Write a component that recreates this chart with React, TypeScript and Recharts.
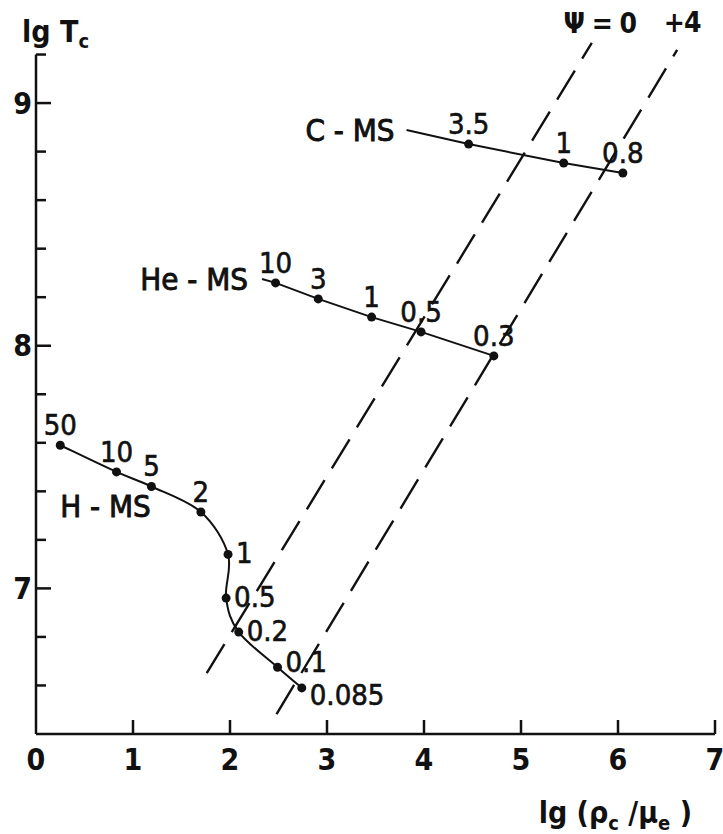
import type { CSSProperties } from "react";
import {
  LabelList,
  Line,
  LineChart,
  ReferenceLine,
  XAxis,
  YAxis,
} from "recharts";

// Main-sequence tracks: central density vs central temperature, points labelled by mass.
const hmsMass = ["50", "10", "5", "2", "1", "0.5", "0.2", "0.1", "0.085"];
const hmsLgRho = [0.25, 0.83, 1.19, 1.7, 1.98, 1.96, 2.09, 2.49, 2.74];
const hmsLgT = [7.59, 7.48, 7.42, 7.315, 7.14, 6.96, 6.82, 6.675, 6.59];

// first entry is where the line begins, it carries no dot
const hemsMass = ["", "10", "3", "1", "0.5", "0.3"];
const hemsLgRho = [2.33, 2.47, 2.91, 3.46, 3.97, 4.72];
const hemsLgT = [8.275, 8.259, 8.193, 8.118, 8.057, 7.958];

const cmsMass = ["", "3.5", "1", "0.8"];
const cmsLgRho = [3.82, 4.46, 5.44, 6.05];
const cmsLgT = [8.889, 8.831, 8.753, 8.712];

// degeneracy lines
const psi0LgRho = [1.76, 5.73];
const psi0LgT = [6.651, 9.248];
const psi4LgRho = [2.48, 6.61];
const psi4LgT = [6.482, 9.219];

const xTicks = [0, 1, 2, 3, 4, 5, 6, 7];
const yTicks = [6.6, 6.8, 7, 7.2, 7.4, 7.6, 7.8, 8, 8.2, 8.4, 8.6, 8.8, 9, 9.2];
const yLabelled = [7, 8, 9];

// where each mass label sits relative to its dot
const hmsSides = ["top", "top", "top", "top", "right", "right", "right", "rightUp", "rightDown"];
const hemsSides = ["top", "top", "top", "top", "top", "top"];
const cmsSides = ["top", "top", "top", "top"];

type Pt = { x: number; y: number; m: string };

function toPoints(xs: number[], ys: number[], labels: string[]): Pt[] {
  return xs.map((x, i) => ({ x, y: ys[i], m: labels[i] ?? "" }));
}

const hms = toPoints(hmsLgRho, hmsLgT, hmsMass);
const hems = toPoints(hemsLgRho, hemsLgT, hemsMass);
const cms = toPoints(cmsLgRho, cmsLgT, cmsMass);
const psi0 = toPoints(psi0LgRho, psi0LgT, ["", "Ψ = 0"]);
const psi4 = toPoints(psi4LgRho, psi4LgT, ["", "+4"]);

const INK = "#111";
const FONT = '"DejaVu Sans Condensed", "DejaVu Sans", sans-serif';

const txt: CSSProperties = { fontFamily: FONT, fill: INK };
const txtHeavy: CSSProperties = { ...txt, stroke: INK, strokeWidth: 0.6 };

// Catmull-Rom through the points so the H-MS track bends only where it turns
function catmullRom(context: any) {
  let pts: [number, number][] = [];
  return {
    areaStart() {},
    areaEnd() {},
    lineStart() {
      pts = [];
    },
    point(x: number, y: number) {
      pts.push([+x, +y]);
    },
    lineEnd() {
      if (!pts.length) return;
      context.moveTo(pts[0][0], pts[0][1]);
      for (let i = 0; i < pts.length - 1; i++) {
        const p0 = pts[i - 1] ?? pts[i];
        const p1 = pts[i];
        const p2 = pts[i + 1];
        const p3 = pts[i + 2] ?? p2;
        context.bezierCurveTo(
          p1[0] + (p2[0] - p0[0]) / 6,
          p1[1] + (p2[1] - p0[1]) / 6,
          p2[0] - (p3[0] - p1[0]) / 6,
          p2[1] - (p3[1] - p1[1]) / 6,
          p2[0],
          p2[1]
        );
      }
    },
  };
}

function XTick({ x, y, payload }: any) {
  const v = payload.value as number;
  return (
    <g>
      {v !== 0 && (
        <line x1={x} x2={x} y1={y} y2={y - 14} stroke={INK} strokeWidth={2.5} />
      )}
      <text
        x={x}
        y={y + 25}
        textAnchor="middle"
        dominantBaseline="central"
        fontSize={30}
        fontWeight="bold"
        style={txt}
      >
        {v}
      </text>
    </g>
  );
}

function YTick({ x, y, payload }: any) {
  const v = payload.value as number;
  const major = yLabelled.includes(v);
  return (
    <g>
      <line
        x1={x}
        x2={x + (major ? 15 : 10)}
        y1={y}
        y2={y}
        stroke={INK}
        strokeWidth={2.5}
      />
      {major && (
        <text
          x={x - 4}
          y={y}
          textAnchor="end"
          dominantBaseline="central"
          fontSize={30}
          fontWeight="bold"
          style={txt}
        >
          {v}
        </text>
      )}
    </g>
  );
}

type SeriesName = { text: string; dx: number; dy: number; anchor: "start" | "end" };

function massLabels(sides: string[], name?: SeriesName) {
  return (props: any) => {
    const { x, y, value, index } = props;
    const side = sides[index] ?? "top";
    let lx = x;
    let ly = y - 20;
    let anchor: "start" | "middle" = "middle";
    if (side === "right") {
      lx = x + 8;
      ly = y - 1;
      anchor = "start";
    } else if (side === "rightUp") {
      lx = x + 8;
      ly = y - 5;
      anchor = "start";
    } else if (side === "rightDown") {
      lx = x + 8;
      ly = y + 7;
      anchor = "start";
    }
    return (
      <g key={`lbl-${index}`}>
        {value ? (
          <text
            x={lx}
            y={ly}
            textAnchor={anchor}
            dominantBaseline="central"
            fontSize={29}
            style={txtHeavy}
          >
            {value}
          </text>
        ) : null}
        {name && index === 0 ? (
          <text
            x={x + name.dx}
            y={y + name.dy}
            textAnchor={name.anchor}
            dominantBaseline="central"
            fontSize={31}
            style={{ ...txt, stroke: INK, strokeWidth: 0.9 }}
          >
            {name.text}
          </text>
        ) : null}
      </g>
    );
  };
}

function lineTag(dx: number, dy: number) {
  return (props: any) => {
    const { x, y, value, index } = props;
    if (!value) return <g key={`tag-${index}`} />;
    return (
      <text
        key={`tag-${index}`}
        x={x + dx}
        y={y + dy}
        textAnchor="middle"
        dominantBaseline="central"
        fontSize={28}
        fontWeight="bold"
        letterSpacing={-1}
        style={txt}
      >
        {value}
      </text>
    );
  };
}

function MassDot(props: any) {
  const { cx, cy, payload, index } = props;
  if (!payload?.m) return <g key={`dot-${index}`} />;
  return <circle key={`dot-${index}`} cx={cx} cy={cy} r={4.5} fill={INK} stroke="none" />;
}

function XTitle(props: any) {
  const vb = props.viewBox ?? props;
  return (
    <text
      x={vb.x + vb.width - 23}
      y={vb.y + 89}
      textAnchor="end"
      fontSize={30}
      fontWeight="bold"
      style={txt}
    >
      lg (ρ
      <tspan fontSize={20} dy={7}>c</tspan>
      <tspan dy={-7}> /μ</tspan>
      <tspan fontSize={20} dy={7}>e</tspan>
      <tspan dy={-7}> )</tspan>
    </text>
  );
}

function YTitle(props: any) {
  const vb = props.viewBox ?? props;
  return (
    <text x={vb.x + 22} y={vb.y + 36} fontSize={30} fontWeight="bold" style={txt}>
      lg T
      <tspan fontSize={20} dy={6}>c</tspan>
    </text>
  );
}

export default function App() {
  return (
    <div style={styles.page}>
      <LineChart
        width={723}
        height={834}
        margin={{ top: 6, right: 8, bottom: 70, left: 0 }}
      >
        <XAxis
          dataKey="x"
          type="number"
          domain={[0, 7]}
          ticks={xTicks}
          interval={0}
          tickSize={0}
          tickMargin={0}
          tickLine={false}
          tick={<XTick />}
          height={30}
          axisLine={{ stroke: INK, strokeWidth: 2.5 }}
          label={{ content: XTitle }}
        />
        <YAxis
          type="number"
          domain={[6.4, 9.4]}
          ticks={yTicks}
          interval={0}
          width={36}
          tickSize={0}
          tickMargin={0}
          tickLine={false}
          tick={<YTick />}
          axisLine={false}
          label={{ content: YTitle }}
        />
        <ReferenceLine
          segment={[
            { x: 0, y: 6.4 },
            { x: 0, y: 9.2 },
          ]}
          stroke={INK}
          strokeWidth={2.5}
        />
        <Line
          data={psi0}
          dataKey="y"
          type="linear"
          stroke={INK}
          strokeWidth={2.4}
          strokeDasharray="34 14"
          dot={false}
          activeDot={false}
          isAnimationActive={false}
        >
          <LabelList dataKey="m" content={lineTag(8, -19)} />
        </Line>
        <Line
          data={psi4}
          dataKey="y"
          type="linear"
          stroke={INK}
          strokeWidth={2.4}
          strokeDasharray="34 14"
          dot={false}
          activeDot={false}
          isAnimationActive={false}
        >
          <LabelList dataKey="m" content={lineTag(5, -27)} />
        </Line>
        <Line
          data={hms}
          dataKey="y"
          type={catmullRom as any}
          stroke={INK}
          strokeWidth={2}
          dot={<MassDot />}
          activeDot={false}
          isAnimationActive={false}
        >
          <LabelList
            dataKey="m"
            content={massLabels(hmsSides, { text: "H - MS", dx: 0, dy: 61, anchor: "start" })}
          />
        </Line>
        <Line
          data={hems}
          dataKey="y"
          type="linear"
          stroke={INK}
          strokeWidth={2}
          dot={<MassDot />}
          activeDot={false}
          isAnimationActive={false}
        >
          <LabelList
            dataKey="m"
            content={massLabels(hemsSides, { text: "He - MS", dx: -14, dy: 0, anchor: "end" })}
          />
        </Line>
        <Line
          data={cms}
          dataKey="y"
          type="linear"
          stroke={INK}
          strokeWidth={2}
          dot={<MassDot />}
          activeDot={false}
          isAnimationActive={false}
        >
          <LabelList
            dataKey="m"
            content={massLabels(cmsSides, { text: "C - MS", dx: -12, dy: 0, anchor: "end" })}
          />
        </Line>
      </LineChart>
    </div>
  );
}

const styles: Record<string, CSSProperties> = {
  page: {
    position: "absolute",
    left: 0,
    top: 0,
    width: 723,
    height: 834,
    background: "#fff",
  },
};
